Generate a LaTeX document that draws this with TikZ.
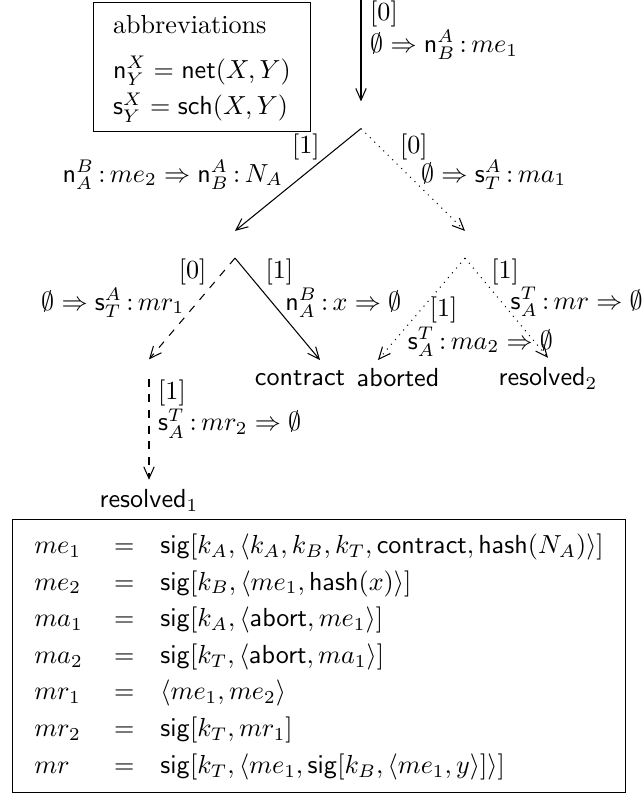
\documentclass[tikz,border=0pt]{standalone}
\usepackage{amsmath}
\usetikzlibrary{arrows.meta, positioning}

\newcommand{\chn}{\mathsf{n}}
\newcommand{\chs}{\mathsf{s}}
\newcommand{\msgof}{\,{:}\,}

\begin{document}
\begin{tikzpicture}[
    x=0.383pt, y=-0.383pt,
    tip/.style={-{Straight Barb[length=4.5pt, width=4pt]}},
    hub/.style={inner sep=0pt, minimum width=0pt, minimum height=10pt},
    leaf/.style={inner sep=3.33pt, font=\sffamily},
    frame/.style={draw, inner xsep=8.5pt, inner ysep=3pt}
  ]
  \useasboundingbox (0,0) rectangle (644,797);

  % Abbreviations
  \node[frame, inner xsep=7.5pt, inner ysep=2pt] (abbr) at (202,67) {%
    \renewcommand{\arraystretch}{1.17}%
    \begin{tabular}{@{}l@{}}
      abbreviations\\[3pt]
      $\chn^X_Y = \mathsf{net}(X,Y)$\\
      $\chs^X_Y = \mathsf{sch}(X,Y)$
    \end{tabular}};

  % Tree nodes
  \coordinate (start) at (361,0);
  \node[hub] (root) at (361,115) {};
  \node[hub] (recv) at (235,244.5) {};
  \node[hub] (abrq) at (465,244.5) {};
  \node[hub, minimum height=7pt] (res1) at (149,369) {};
  \coordinate (contrtip) at (320,360);
  \coordinate (abrttip) at (378,360);
  \node[leaf] (contract) at (300,378) {contract};
  \node[leaf] (aborted) at (398,378) {aborted};
  \node[leaf] (resolvedB) at (548,378) {resolved$_2$};
  \node[leaf] (resolvedA) at (149,500) {resolved$_1$};

  % Edges
  \path[tip]
    (start) edge node[pos=0.3, right=0pt, align=left]
        {[0]\\$\emptyset \Rightarrow \chn^A_B\msgof me_1$} (root.north)
    (root.south) edge node[pos=0.18, left=3.6pt] {[1]}
        node[pos=0.45, left=4.7pt] {$\chn^B_A\msgof me_2 \Rightarrow \chn^A_B\msgof N_A$} (recv.north)
    (recv.south) edge node[pos=0.14, right=3.6pt] {[1]}
        node[pos=0.44, right=1.4pt] {$\chn^B_A\msgof x \Rightarrow \emptyset$} (contrtip);

  \path[tip, dotted]
    (root.south) edge node[pos=0.18, right=4.3pt] {[0]}
        node[pos=0.45, right=1.6pt] {$\emptyset \Rightarrow \chs^A_T\msgof ma_1$} (abrq.north)
    (abrq.south) edge node[pos=0.51, right=0pt] {[1]}
        node[pos=0.82, right=1.9pt] {$\chs^T_A\msgof ma_2 \Rightarrow \emptyset$} (abrttip)
    (abrq.south) edge node[pos=0.14, right=2.1pt] {[1]}
        node[pos=0.44, right=0pt] {$\chs^T_A\msgof mr \Rightarrow \emptyset$} (resolvedB.north);

  \path[tip, dashed]
    (recv.south) edge node[pos=0.14, left=2.8pt] {[0]}
        node[pos=0.44, left=1.4pt] {$\emptyset \Rightarrow \chs^A_T\msgof mr_1$} (res1.north)
    (res1.south) edge node[pos=0.3, right=0pt, align=left]
        {[1]\\$\chs^T_A\msgof mr_2 \Rightarrow \emptyset$} (resolvedA.north);

  % Definitions
  \node[frame] (defs) at (319,656) {%
    \renewcommand{\arraystretch}{1.17}%
    $\begin{array}{@{}l@{\hspace{12pt}}c@{\hspace{10pt}}l@{}}
      me_1 & = & \mathsf{sig}[k_A, \langle k_A, k_B, k_T, \mathsf{contract}, \mathsf{hash}(N_A)\rangle]\\
      me_2 & = & \mathsf{sig}[k_B, \langle me_1, \mathsf{hash}(x)\rangle]\\
      ma_1 & = & \mathsf{sig}[k_A, \langle \mathsf{abort}, me_1\rangle]\\
      ma_2 & = & \mathsf{sig}[k_T, \langle \mathsf{abort}, ma_1\rangle]\\
      mr_1 & = & \langle me_1, me_2\rangle\\
      mr_2 & = & \mathsf{sig}[k_T, mr_1]\\
      mr   & = & \mathsf{sig}[k_T, \langle me_1, \mathsf{sig}[k_B, \langle me_1, y\rangle]\rangle]
    \end{array}$};
\end{tikzpicture}
\end{document}
